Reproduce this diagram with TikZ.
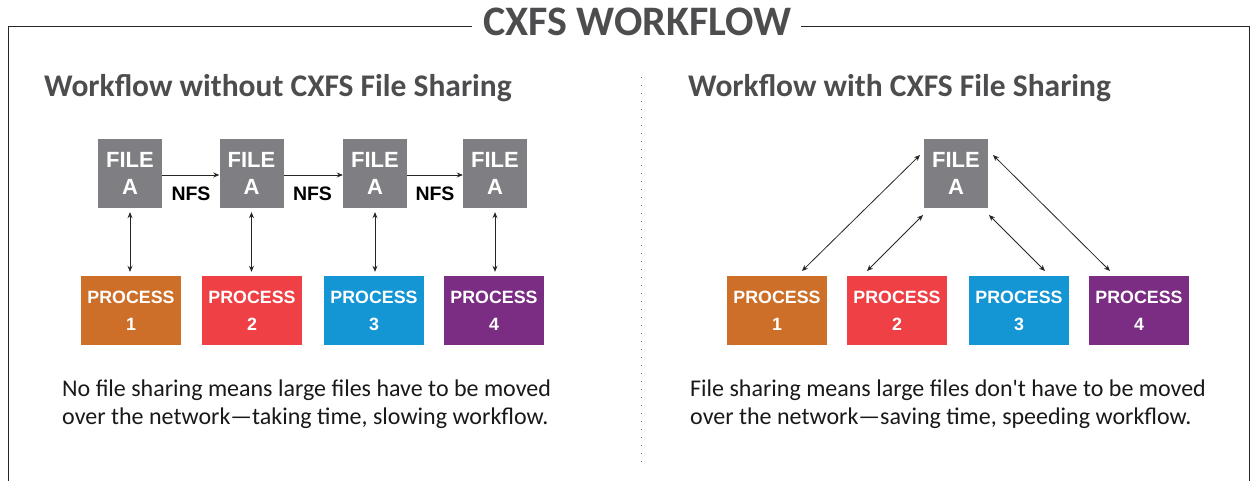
\documentclass[tikz,border=0pt]{standalone}
\usepackage{fontspec}
\setmainfont{Carlito}[Ligatures=TeXOff]
\newfontfamily\boxfont{Liberation Sans}
\usetikzlibrary{arrows.meta}
\definecolor{titlegray}{HTML}{4D4D4F}
\definecolor{filegray}{HTML}{7F7F83}
\definecolor{porange}{HTML}{CD6F28}
\definecolor{pred}{HTML}{EF4045}
\definecolor{pblue}{HTML}{1596D4}
\definecolor{ppurple}{HTML}{7B2C83}
\tikzset{
  filebox/.style={fill=filegray, minimum width=64pt, minimum height=69pt, inner sep=0pt,
    text=white, font=\boxfont\bfseries\fontsize{22}{27}\selectfont, align=center},
  procbox/.style={minimum width=100pt, minimum height=69pt, inner sep=0pt,
    text=white, font=\boxfont\bfseries\fontsize{17.8}{27}\selectfont, align=center},
  conn/.style={line width=0.8pt, color=black!85, -{Stealth[length=6pt,width=5pt]}},
  dconn/.style={line width=0.8pt, color=black!85, {Stealth[length=6pt,width=5pt]}-{Stealth[length=6pt,width=5pt]}},
  heading/.style={text=titlegray, font=\bfseries\fontsize{31.5}{36}\selectfont, anchor=base west, inner sep=0pt},
  bodytext/.style={text=black!90, font=\fontsize{24}{28}\selectfont, align=left, anchor=north west, inner sep=0pt},
  nfs/.style={font=\boxfont\bfseries\fontsize{19.5}{22}\selectfont, inner sep=0pt}
}
\begin{document}
\begin{tikzpicture}[x=1pt,y=-1pt]
\useasboundingbox (0,0) rectangle (1251,481);
% frame
\node[text=titlegray, font=\bfseries\fontsize{42}{46}\selectfont, inner sep=0pt, anchor=base] (title) at (637.5,36) {CXFS WORKFLOW};
\coordinate (fl1) at (472,27);
\coordinate (fl2) at (8,27);
\coordinate (fl3) at (8,481);
\coordinate (fr1) at (801,27);
\coordinate (fr2) at (1249,27);
\coordinate (fr3) at (1249,481);
\draw[line width=1pt, black!85] (fl1) -- (fl2) -- (fl3);
\draw[line width=1pt, black!85] (fr1) -- (fr2) -- (fr3);
% divider
\coordinate (d1) at (641.5,77);
\coordinate (d2) at (641.5,462);
\draw[line width=1pt, black!60, dash pattern=on 1pt off 7pt] (d1) -- (d2);
% headings
\node[heading] (hl) at (44,96.5) {Workflow without CXFS File Sharing};
\node[heading] (hr) at (688,96.5) {Workflow with CXFS File Sharing};
% left diagram
\node[filebox] (f1) at (130,173.5) {FILE\\A};
\node[filebox] (f2) at (251.5,173.5) {FILE\\A};
\node[filebox] (f3) at (375,173.5) {FILE\\A};
\node[filebox] (f4) at (495,173.5) {FILE\\A};
\node[procbox, fill=porange] (p1) at (131,310.5) {PROCESS\\1};
\node[procbox, fill=pred] (p2) at (252,310.5) {PROCESS\\2};
\node[procbox, fill=pblue] (p3) at (374,310.5) {PROCESS\\3};
\node[procbox, fill=ppurple] (p4) at (494,310.5) {PROCESS\\4};
\foreach \a/\b in {f1/f2,f2/f3,f3/f4}{
  \draw[conn] ([yshift=-1.5pt]\a.east) -- ([yshift=-1.5pt]\b.west);
}
\node[nfs] (n1) at (191,193.5) {NFS};
\node[nfs] (n2) at (312.5,193.5) {NFS};
\node[nfs] (n3) at (435,193.5) {NFS};
\foreach \i in {1,2,3,4}{
  \draw[dconn] ([yshift=-4pt]f\i.south) -- ([yshift=4pt]f\i.south |- p\i.north);
}
\node[bodytext] (tl) at (62,380) {No file sharing means large files have to be moved\\over the network\textemdash taking time, slowing workflow.};
% right diagram
\node[filebox] (fc) at (956,173.5) {FILE\\A};
\node[procbox, fill=porange] (q1) at (777,310.5) {PROCESS\\1};
\node[procbox, fill=pred] (q2) at (897,310.5) {PROCESS\\2};
\node[procbox, fill=pblue] (q3) at (1019,310.5) {PROCESS\\3};
\node[procbox, fill=ppurple] (q4) at (1139,310.5) {PROCESS\\4};
\coordinate (a1t) at (920,155);
\coordinate (a1b) at (802,271);
\coordinate (a2t) at (923,215);
\coordinate (a2b) at (867,271);
\coordinate (a3t) at (989,215);
\coordinate (a3b) at (1045,271);
\coordinate (a4t) at (993,155);
\coordinate (a4b) at (1110,271);
\draw[dconn] (a1t) -- (a1b);
\draw[dconn] (a2t) -- (a2b);
\draw[dconn] (a3t) -- (a3b);
\draw[dconn] (a4t) -- (a4b);
\node[bodytext] (tr) at (690,380) {File sharing means large files don't have to be moved\\over the network\textemdash saving time, speeding workflow.};
\end{tikzpicture}
\end{document}
